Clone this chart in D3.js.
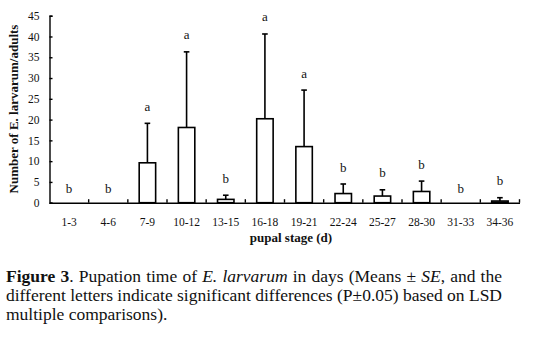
<!DOCTYPE html>
<html>
<head>
<meta charset="utf-8">
<script src="https://cdn.jsdelivr.net/npm/d3@7"></script>
<style>
  body { margin: 0; background: #fff; }
  svg { display: block; }
  svg text { font-family: "Liberation Serif", "Times New Roman", serif; }
</style>
</head>
<body>
<div id="chart"></div>
<script>
// pupal stage categories (days)
var stages = ["1-3", "4-6", "7-9", "10-12", "13-15", "16-18", "19-21", "22-24", "25-27", "28-30", "31-33", "34-36"];
// mean number of adults per stage
var means = [0, 0, 9.6, 18.1, 0.8, 20.2, 13.5, 2.2, 1.6, 2.7, 0, 0.4];
// standard error (upper bar only)
var errors = [0, 0, 9.5, 18.2, 1.0, 20.4, 13.6, 2.3, 1.5, 2.5, 0, 0.8];
// significance letters
var letters = ["b", "b", "a", "a", "b", "a", "a", "b", "b", "b", "b", "b"];
var yTicks = [0, 5, 10, 15, 20, 25, 30, 35, 40, 45];

var serif = "'Liberation Serif', 'Times New Roman', serif";
var width = 550, height = 349;

var svg = d3.select("#chart").append("svg")
    .attr("width", width)
    .attr("height", height);

var x = d3.scaleBand()
    .domain(stages)
    .range([49.5, 519.5])
    .padding(0);

var y = d3.scaleLinear()
    .domain([0, 45])
    .range([202.7, 15.7]);

var barW = x.bandwidth() * 0.42;

var data = stages.map((s, i) => ({ stage: s, mean: means[i], se: errors[i], letter: letters[i] }));

// y axis, ticks pointing inward
var yAxis = svg.append("g")
    .attr("transform", "translate(49.5,0)")
    .call(d3.axisLeft(y).tickValues(yTicks).tickSize(-3).tickPadding(10));
yAxis.attr("font-family", null);
yAxis.select(".domain").attr("stroke", "#000").attr("stroke-width", 1.4);
yAxis.selectAll(".tick line").attr("stroke", "#000").attr("stroke-width", 1.4);
yAxis.selectAll("text").attr("fill", "#111")
    .style("font-family", serif).style("font-size", "11.5px");

// x axis: labels at centres, ticks at category boundaries
var xAxis = svg.append("g")
    .attr("transform", "translate(0," + y(0) + ")")
    .call(d3.axisBottom(x).tickSize(0).tickPadding(15));
xAxis.attr("font-family", null);
xAxis.select(".domain").attr("stroke", "#000").attr("stroke-width", 1.4);
xAxis.selectAll("text").attr("fill", "#111")
    .style("font-family", serif).style("font-size", "11.5px");

xAxis.selectAll(".bound")
    .data(stages)
    .enter().append("line")
    .attr("class", "bound")
    .attr("x1", d => x(d) + x.bandwidth())
    .attr("x2", d => x(d) + x.bandwidth())
    .attr("y1", 0)
    .attr("y2", -3.5)
    .attr("stroke", "#000")
    .attr("stroke-width", 1.4);

// bars
svg.selectAll(".bar")
    .data(data.filter(d => d.mean > 0))
    .enter().append("rect")
    .attr("class", "bar")
    .attr("x", d => x(d.stage) + (x.bandwidth() - barW) / 2)
    .attr("y", d => y(d.mean))
    .attr("width", barW)
    .attr("height", d => y(0) - y(d.mean))
    .attr("fill", "#fff")
    .attr("stroke", "#000")
    .attr("stroke-width", 1.6);

// error bars (upper only)
var eb = svg.selectAll(".err")
    .data(data.filter(d => d.se > 0))
    .enter().append("g")
    .attr("class", "err")
    .attr("stroke", "#000")
    .attr("stroke-width", 1.6);

eb.append("line")
    .attr("x1", d => x(d.stage) + x.bandwidth() / 2)
    .attr("x2", d => x(d.stage) + x.bandwidth() / 2)
    .attr("y1", d => y(d.mean))
    .attr("y2", d => y(d.mean + d.se));

eb.append("line")
    .attr("x1", d => x(d.stage) + x.bandwidth() / 2 - 2.8)
    .attr("x2", d => x(d.stage) + x.bandwidth() / 2 + 2.8)
    .attr("y1", d => y(d.mean + d.se))
    .attr("y2", d => y(d.mean + d.se));

// significance letters
svg.selectAll(".letter")
    .data(data)
    .enter().append("text")
    .attr("class", "letter")
    .attr("x", d => x(d.stage) + x.bandwidth() / 2)
    .attr("y", d => y(d.mean + d.se) - (d.se > 0 ? 12.5 : 10))
    .attr("text-anchor", "middle")
    .attr("fill", "#111")
    .style("font-family", serif)
    .style("font-size", "13px")
    .text(d => d.letter);

// axis titles
svg.append("text")
    .attr("transform", "translate(18,109) rotate(-90)")
    .attr("text-anchor", "middle")
    .attr("fill", "#111")
    .style("font-family", serif)
    .style("font-size", "13px")
    .style("font-weight", "bold")
    .text("Number of E. larvarum/adults");

svg.append("text")
    .attr("x", 291)
    .attr("y", 242)
    .attr("text-anchor", "middle")
    .attr("fill", "#111")
    .style("font-family", serif)
    .style("font-size", "13px")
    .style("font-weight", "bold")
    .text("pupal stage (d)");

// caption
var captionLines = [
    [["Figure 3", "bold"], [". Pupation time of ", ""], ["E. larvarum", "italic"], [" in days (Means \u00b1 ", ""], ["SE", "italic"], [", and the", ""]],
    [["different letters indicate significant differences (P\u00b10.05) based on LSD", ""]],
    [["multiple comparisons).", ""]]
];
var captionY = [281.7, 301.2, 320];

captionLines.forEach(function(parts, i) {
    var t = svg.append("text")
        .attr("x", 6)
        .attr("y", captionY[i])
        .attr("fill", "#111")
        .style("font-family", serif)
        .style("font-size", "17.5px");
    parts.forEach(function(p) {
        var ts = t.append("tspan").text(p[0]);
        if (p[1] === "bold") ts.style("font-weight", "bold");
        if (p[1] === "italic") ts.style("font-style", "italic");
    });
    // justify first two lines to the right edge
    if (i < 2) {
        var full = t.node().getComputedTextLength();
        var spaces = parts.map(p => p[0]).join("").split(" ").length - 1;
        t.style("word-spacing", ((502 - 6 - full) / spaces) + "px");
    }
});
</script>
</body>
</html>
